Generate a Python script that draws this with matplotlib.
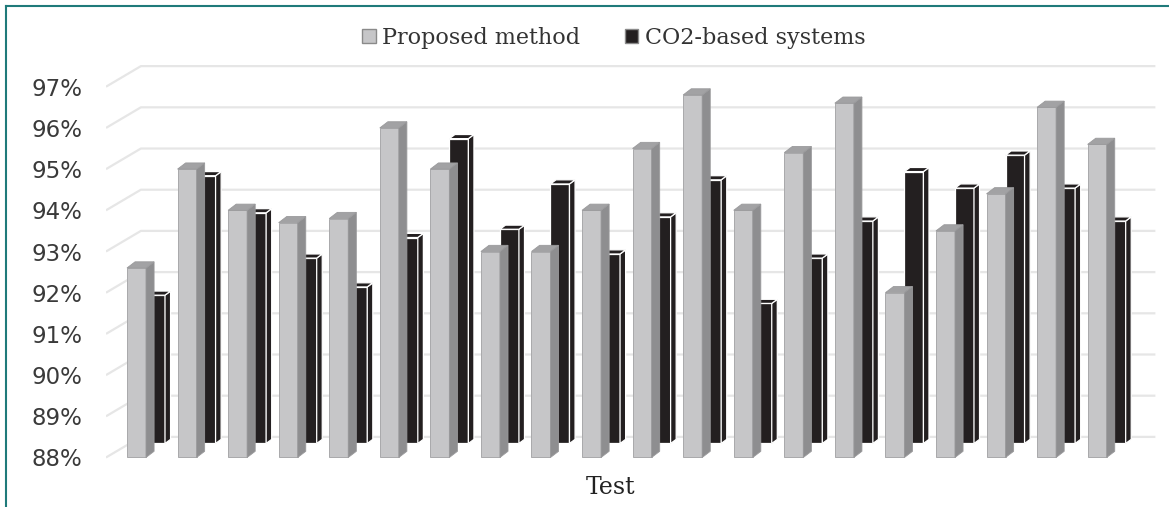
import numpy as np
import matplotlib.pyplot as plt
from matplotlib.patches import Patch
from matplotlib.lines import Line2D
from matplotlib.ticker import FuncFormatter

# Accuracy per test run (%)
tests = np.arange(1, 21)
proposed = [92.6, 95.0, 94.0, 93.7, 93.8, 96.0, 95.0, 93.0, 93.0, 94.0,
            95.5, 96.8, 94.0, 95.4, 96.6, 92.0, 93.5, 94.4, 96.5, 95.6]
co2_based = [91.6, 94.5, 93.6, 92.5, 91.8, 93.0, 95.4, 93.2, 94.3, 92.6,
             93.5, 94.4, 91.4, 92.5, 93.4, 94.6, 94.2, 95.0, 94.2, 93.4]
yticks = np.arange(88, 98)
labels = ['Proposed method', 'CO2-based systems']

base = 88
# fake 3D geometry, in data units
wall_x0, wall_x1 = -0.415, 20.34
wall_dx, wall_dy = 0.69, 0.5
bar_w = 0.376
g_dx, g_dy = 0.16, 0.15     # depth of front (grey) bars
k_dx, k_dy = 0.11, 0.10     # depth of back (black) bars
row_dx, row_dy = 0.376, 0.34

grey_front, grey_side, grey_top = '#c6c6c8', '#8e8e90', '#a2a2a4'
black = '#231f20'

fig = plt.figure(figsize=(11.69, 5.07), dpi=100)
ax = fig.add_axes([106/1169, 32/507, 1059/1169, 420/507])
ax.set_xlim(-0.415, 20.53)
ax.set_ylim(87.575, 97.77)

# back wall + left wall gridlines
for v in yticks:
    ax.plot([wall_x0, wall_x0 + wall_dx, wall_x1], [v, v + wall_dy, v + wall_dy],
            color='#e6e6e6', lw=1.6, zorder=1, solid_capstyle='butt')

x = tests - 1

# back row: black bars
xb = x + row_dx
ax.bar(xb, np.array(co2_based) - base, bottom=base + row_dy, width=bar_w,
       align='edge', color=black, edgecolor='white', lw=0.9, zorder=2)
for xi, v in zip(xb, co2_based):
    top = v + row_dy
    ax.fill([xi + bar_w, xi + bar_w + k_dx, xi + bar_w + k_dx, xi + bar_w],
            [base + row_dy, base + row_dy + k_dy, top + k_dy, top],
            facecolor=black, edgecolor='white', lw=0.9, zorder=2)
    ax.fill([xi, xi + bar_w, xi + bar_w + k_dx, xi + k_dx],
            [top, top, top + k_dy, top + k_dy],
            facecolor=black, edgecolor='white', lw=0.9, zorder=2)

# front row: grey bars
ax.bar(x, np.array(proposed) - base, bottom=base, width=bar_w, align='edge',
       color=grey_front, edgecolor='#a9a9ab', lw=0.7, zorder=4)
for xi, v in zip(x, proposed):
    ax.fill([xi + bar_w, xi + bar_w + g_dx, xi + bar_w + g_dx, xi + bar_w],
            [base, base + g_dy, v + g_dy, v],
            facecolor=grey_side, edgecolor='#9a9a9c', lw=0.6, zorder=4)
    ax.fill([xi, xi + bar_w, xi + bar_w + g_dx, xi + g_dx],
            [v, v, v + g_dy, v + g_dy],
            facecolor=grey_top, edgecolor='#9a9a9c', lw=0.6, zorder=4)

ax.set_yticks(yticks)
ax.yaxis.set_major_formatter(FuncFormatter(lambda v, p: '%d%%' % v))
ax.tick_params(axis='y', length=0, pad=17, labelsize=16.5, labelcolor='#3a3a3a')
ax.set_xticks([])
for s in ax.spines.values():
    s.set_visible(False)
ax.patch.set_alpha(0)

handles = [Patch(facecolor=grey_front, edgecolor='#8a8a8a'),
           Patch(facecolor=black, edgecolor='#8a8a8a')]
fig.legend(handles, labels, loc='center', bbox_to_anchor=(614/1169, 1 - 38/507),
           ncol=2, frameon=False, handlelength=0.6, handleheight=0.6,
           handletextpad=0.3, columnspacing=2.0,
           prop={'family': 'DejaVu Serif', 'size': 16})
for t in fig.legends[0].get_texts():
    t.set_color('#333333')

fig.text(611/1169, 1 - 488/507, 'Test', ha='center', va='center',
         family='DejaVu Serif', size=17, color='#222222')

# teal frame on the top and left edges
fig.add_artist(Line2D([6/1169, 6/1169], [0, 1 - 6/507], transform=fig.transFigure,
                      color='#1f7a7a', lw=1.5))
fig.add_artist(Line2D([6/1169, 1], [1 - 6/507, 1 - 6/507], transform=fig.transFigure,
                      color='#1f7a7a', lw=1.5))

fig.savefig('out.png', dpi=100)
